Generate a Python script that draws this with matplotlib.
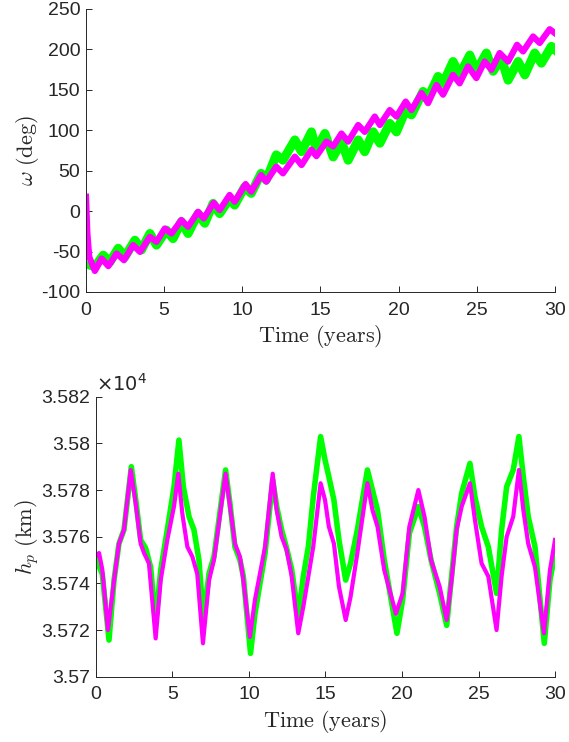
import numpy as np
import matplotlib
matplotlib.use("Agg")
import matplotlib.pyplot as plt
from matplotlib.ticker import FuncFormatter

# ----------------------------------------------------------
# Data (zig-zag vertices)
# ----------------------------------------------------------
# argument of perigee, magenta run
t_w_mag = [0.0, 0.09, 0.21, 0.57, 1.0, 1.43, 1.96, 2.43, 3.02, 3.45, 4.09, 4.51,
           5.04, 5.47, 6.1, 6.53, 7.17, 7.53, 8.17, 8.55, 9.19, 9.51, 10.21, 10.57,
           11.2, 11.53, 12.17, 12.6, 13.36, 13.79, 14.42, 14.74, 15.38, 15.81, 16.34,
           16.77, 17.41, 17.83, 18.47, 18.8, 19.43, 19.86, 20.45, 20.82, 21.46, 21.88,
           22.42, 22.84, 23.48, 23.9, 24.44, 24.97, 25.5, 25.93, 26.46, 27.0, 27.57,
           27.96, 28.6, 29.02, 29.66, 30.0]
w_mag = [17.8, -27.7, -56.6, -74, -58.7, -68, -52.5, -60.7, -42, -50.4, -31.8, -38,
         -21.5, -27.7, -11, -19.4, -0.8, -9, 10.3, 1.3, 20, 11.6, 33.5, 24,
         44.6, 36.4, 55, 46.7, 67.4, 57, 76, 68, 86, 80, 96,
         86, 106.5, 98, 117, 106.5, 125, 117, 135.5, 125, 146, 133.5,
         156, 144, 168.5, 158, 179, 164.5, 185, 174.8, 195.5, 185, 205.7,
         197.5, 216, 208, 225, 220]

# argument of perigee, green run
t_w_grn = [0.3, 0.57, 1.1, 1.53, 2.06, 2.49, 3.13, 3.55, 4.09, 4.51, 5.15, 5.57,
           6.1, 6.53, 7.17, 7.6, 8.13, 8.55, 9.19, 9.51, 10.15, 10.57, 11.2, 11.53,
           12.17, 12.6, 13.36, 13.79, 14.42, 14.74, 15.28, 15.81, 16.34, 16.77, 17.41,
           17.83, 18.37, 18.8, 19.43, 19.86, 20.45, 20.82, 21.56, 21.88, 22.52, 22.84,
           23.48, 23.9, 24.55, 24.97, 25.61, 26.04, 26.57, 27.0, 27.64, 28.07, 28.7,
           29.13, 29.77, 30.0]
w_grn = [-67, -69, -54.5, -63, -46, -56.6, -36, -48, -27.7, -42, -23.5, -34,
         -13, -27.7, -3, -15, 9.5, -3, 15.7, 7.5, 30, 22, 46.7, 38.5,
         69.5, 63, 88, 73.5, 98, 75.6, 96, 67, 86, 63, 88,
         73.5, 98, 84, 108.5, 98, 125, 119, 148, 140, 166.5, 158,
         185, 168.5, 193, 173, 195.5, 173, 189, 162, 185, 168.5, 195.5,
         183, 203.7, 199.6]

# perigee altitude (km), magenta run
t_h_mag = [0.04, 0.2, 0.41, 0.78, 1.18, 1.5, 1.83, 2.27, 2.6, 2.92, 3.14, 3.46,
           3.9, 4.23, 4.66, 5.1, 5.38, 5.64, 5.97, 6.3, 6.62, 6.99, 7.39, 7.71,
           8.47, 8.76, 9.08, 9.41, 9.63, 10.06, 10.39, 10.72, 11.05, 11.55, 11.81,
           12.13, 12.46, 12.79, 13.22, 13.55, 13.88, 14.2, 14.68, 14.97, 15.22,
           15.55, 15.88, 16.32, 16.64, 17.08, 17.74, 18.07, 18.4, 18.84, 19.6,
           20.04, 20.48, 21.07, 21.47, 21.9, 22.46, 22.92, 23.24, 23.57, 23.9,
           24.44, 24.77, 25.2, 25.64, 26.18, 26.51, 26.84, 27.27, 27.64, 27.93,
           28.25, 28.69, 29.28, 29.67, 30.0]
h_mag = [35752, 35753, 35746, 35720, 35741.4, 35757, 35763, 35788.6, 35774, 35757,
         35753, 35748.6, 35716.4, 35741.4, 35758.6, 35773, 35787, 35770, 35755.7,
         35751.4, 35744, 35714.3, 35741.4, 35750, 35787, 35773, 35757, 35751.4,
         35741.4, 35717, 35733, 35744.3, 35755.7, 35787, 35771.4, 35760, 35754.3,
         35743, 35718.6, 35730, 35743, 35755.7, 35782.9, 35775.7, 35764.3, 35757,
         35738.6, 35724.3, 35734.3, 35752.9, 35782.9, 35771.4, 35764.3, 35745.7,
         35727, 35735.7, 35764.3, 35780, 35768.6, 35750, 35738.6, 35724.3, 35741.4,
         35762.9, 35772.9, 35782.9, 35767, 35748.6, 35743, 35720, 35743, 35760,
         35768.6, 35788.6, 35771.4, 35757, 35747, 35718.6, 35745.7, 35758.6]

# perigee altitude (km), green run
t_h_grn = [0.04, 0.41, 0.85, 1.18, 1.5, 1.83, 2.31, 2.6, 2.92, 3.25, 3.57, 3.9,
           4.23, 4.66, 5.1, 5.42, 5.71, 6.08, 6.4, 6.73, 7.02, 7.39, 7.71, 8.47,
           8.76, 9.08, 9.41, 9.63, 10.1, 10.39, 10.72, 11.05, 11.55, 11.81, 12.13,
           12.46, 12.79, 13.22, 13.55, 13.88, 14.2, 14.68, 14.97, 15.22, 15.55,
           15.88, 16.32, 16.64, 17.08, 17.74, 18.07, 18.4, 18.84, 19.67, 20.04,
           20.48, 21.07, 21.47, 21.9, 22.46, 22.92, 23.24, 23.57, 23.9, 24.44,
           24.77, 25.2, 25.64, 26.18, 26.51, 26.84, 27.27, 27.64, 27.93, 28.25,
           28.69, 29.3, 29.67, 30.0]
h_grn = [35750, 35744, 35715.7, 35741.4, 35757, 35763, 35790, 35775.7, 35758.6,
         35755, 35747, 35723, 35745.7, 35763, 35781.4, 35801.4, 35781.4, 35768.6,
         35763, 35750, 35724.3, 35744.3, 35751.4, 35788.6, 35774, 35755.7, 35750,
         35743, 35710, 35727, 35740, 35753, 35784.3, 35773, 35763, 35755, 35746,
         35725.7, 35743, 35755.7, 35777, 35802.9, 35792.9, 35785.7, 35775.7,
         35758.6, 35741.4, 35748.6, 35762.9, 35788.6, 35780, 35771.4, 35750,
         35718.6, 35732.9, 35761.4, 35772.9, 35764.3, 35750, 35735.7, 35722,
         35743, 35764.3, 35778.6, 35791.4, 35777, 35764.3, 35755.7, 35735.7,
         35762.9, 35781.4, 35788.6, 35802.9, 35785.7, 35768.6, 35755.7, 35714.3,
         35741.4, 35752.9]

x_ticks = [0, 5, 10, 15, 20, 25, 30]
w_ticks = [-100, -50, 0, 50, 100, 150, 200, 250]
h_ticks = [3.57, 3.572, 3.574, 3.576, 3.578, 3.58, 3.582]

# ----------------------------------------------------------
# Style (MATLAB-like)
# ----------------------------------------------------------
plt.rcParams['font.family'] = ['Liberation Sans', 'DejaVu Sans']
plt.rcParams['mathtext.fontset'] = 'cm'
plt.rcParams['axes.unicode_minus'] = False
AX_COL = '#262626'
GREEN = '#00ff00'
MAGENTA = '#ff00ff'

fig = plt.figure(figsize=(5.69, 7.42), dpi=100)
ax1 = fig.add_axes([0.1511, 0.6065, 0.8243, 0.3814])
ax2 = fig.add_axes([0.1687, 0.0880, 0.8067, 0.3774])


def style_axes(ax):
    for side in ['top', 'right']:
        ax.spines[side].set_visible(False)
    for side in ['left', 'bottom']:
        ax.spines[side].set_color(AX_COL)
        ax.spines[side].set_linewidth(0.7)
    ax.tick_params(direction='in', length=4, width=0.7, colors=AX_COL,
                   labelsize=14)
    ax.tick_params(axis='x', pad=7)
    ax.tick_params(axis='y', pad=4)
    ax.set_xlim(0, 30)
    ax.set_xticks(x_ticks)


# --- top: omega ---
ax1.plot(t_w_grn, w_grn, color=GREEN, lw=6.5, solid_joinstyle='round')
ax1.plot(t_w_mag, w_mag, color=MAGENTA, lw=4.5, solid_joinstyle='round')
style_axes(ax1)
ax1.set_ylim(-100, 250)
ax1.set_yticks(w_ticks)
ax1.set_xlabel(r'$\mathrm{Time\ (years)}$', fontsize=16, color=AX_COL, labelpad=3)
ax1.set_ylabel(r'$\omega\ \mathrm{(deg)}$', fontsize=16, color=AX_COL, labelpad=0)

# --- bottom: perigee altitude ---
ax2.plot(t_h_grn, np.array(h_grn) / 1e4, color=GREEN, lw=4, solid_joinstyle='round')
ax2.plot(t_h_mag, np.array(h_mag) / 1e4, color=MAGENTA, lw=3, solid_joinstyle='round')
style_axes(ax2)
ax2.set_ylim(3.57, 3.582)
ax2.set_yticks(h_ticks)
ax2.yaxis.set_major_formatter(FuncFormatter(lambda v, p: f'{v:g}'))
ax2.set_xlabel(r'$\mathrm{Time\ (years)}$', fontsize=16, color=AX_COL, labelpad=3)
ax2.set_ylabel(r'$h_p\ \mathrm{(km)}$', fontsize=16, color=AX_COL, labelpad=0)
ax2.text(0.0, 1.005, r'$\times10^{4}$', transform=ax2.transAxes, ha='left', va='bottom',
         fontsize=14, color=AX_COL, math_fontfamily='dejavusans')

fig.savefig('out.png', dpi=100)
